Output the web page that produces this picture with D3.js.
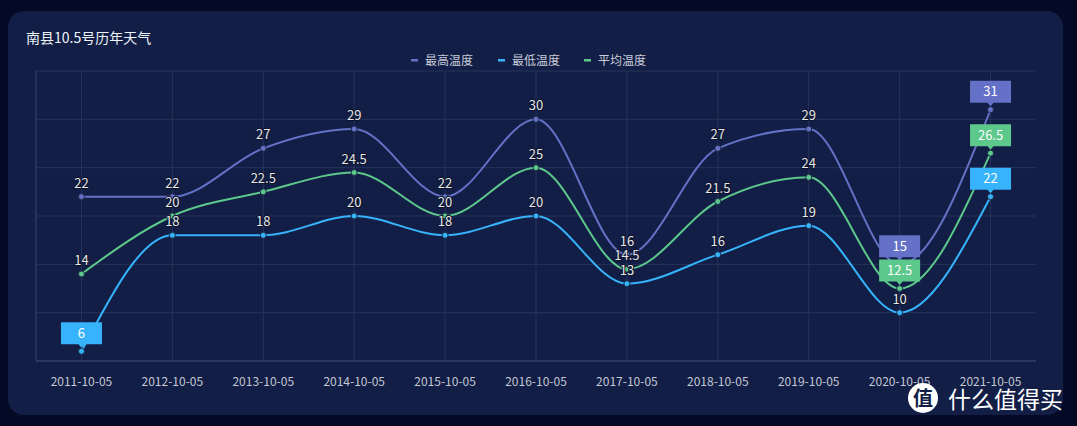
<!DOCTYPE html>
<html>
<head>
<meta charset="utf-8">
<script src="https://cdn.jsdelivr.net/npm/d3@7"></script>
<style>
  html, body { margin: 0; padding: 0; background: #040a26; }
  svg { display: block; font-family: "Noto Sans CJK SC", "Noto Sans", sans-serif; }
</style>
</head>
<body>
<div id="chart"></div>
<script>
const years = ['2011-10-05', '2012-10-05', '2013-10-05', '2014-10-05', '2015-10-05', '2016-10-05',
  '2017-10-05', '2018-10-05', '2019-10-05', '2020-10-05', '2021-10-05'];
const highTemp = [22, 22, 27, 29, 22, 30, 16, 27, 29, 15, 31];
const lowTemp = [6, 18, 18, 20, 18, 20, 13, 16, 19, 10, 22];
const avgTemp = [14, 20, 22.5, 24.5, 20, 25, 14.5, 21.5, 24, 12.5, 26.5];
const seriesNames = ['最高温度', '最低温度', '平均温度'];
const yTicks = [5, 10, 15, 20, 25, 30, 35];

const series = [
  { name: seriesNames[0], values: highTemp, color: '#6471c6' },
  { name: seriesNames[1], values: lowTemp, color: '#36b3fb' },
  { name: seriesNames[2], values: avgTemp, color: '#5dc88b' }
];

const width = 1077, height = 426;
const svg = d3.select('#chart').append('svg')
  .attr('width', width)
  .attr('height', height);

svg.append('rect').attr('width', width).attr('height', height).attr('fill', '#040a26');
svg.append('rect')
  .attr('x', 8).attr('y', 11)
  .attr('width', 1055).attr('height', 404)
  .attr('rx', 16).attr('ry', 16)
  .attr('fill', '#121e45');

svg.append('text')
  .attr('x', 26).attr('y', 43)
  .attr('fill', '#eef3fb')
  .attr('font-size', 14)
  .text('南县10.5号历年天气');

const x = d3.scaleBand().domain(years).range([36, 1036]);
const y = d3.scaleLinear().domain([5, 35]).range([361, 71]);
const cx = d => x(d) + x.bandwidth() / 2;

// grid
svg.append('g').selectAll('line').data(yTicks).join('line')
  .attr('x1', 36).attr('x2', 1036)
  .attr('y1', d => y(d)).attr('y2', d => y(d))
  .attr('stroke', '#26335a').attr('stroke-width', 1);
svg.append('g').selectAll('line').data(years).join('line')
  .attr('x1', d => cx(d)).attr('x2', d => cx(d))
  .attr('y1', 71).attr('y2', 361)
  .attr('stroke', '#26335a').attr('stroke-width', 1);

// axes lines
svg.append('line').attr('x1', 36).attr('x2', 36).attr('y1', 71).attr('y2', 361)
  .attr('stroke', '#364470');
svg.append('line').attr('x1', 36).attr('x2', 1036).attr('y1', 361).attr('y2', 361)
  .attr('stroke', '#364470');

svg.append('g').selectAll('text').data(years).join('text')
  .attr('x', d => cx(d)).attr('y', 386)
  .attr('text-anchor', 'middle')
  .attr('fill', '#c3c7d4')
  .attr('font-size', 12)
  .text(d => d);

// legend
const legendX = [411, 498, 584];
const legend = svg.append('g').selectAll('g').data(series).join('g')
  .attr('transform', (d, i) => `translate(${legendX[i]},60)`);
legend.append('rect').attr('x', 0).attr('y', -1).attr('width', 7).attr('height', 2.5)
  .attr('fill', d => d.color);
legend.append('text').attr('x', 14).attr('y', 4.5)
  .attr('fill', '#c8ccd8').attr('font-size', 12)
  .text(d => d.name);

const line = d3.line()
  .x((v, i) => cx(years[i]))
  .y(v => y(v))
  .curve(d3.curveMonotoneX);

const drawOrder = [series[0], series[2], series[1]];

drawOrder.forEach(s => {
  svg.append('path')
    .datum(s.values)
    .attr('fill', 'none')
    .attr('stroke', s.color)
    .attr('stroke-width', 2)
    .attr('d', line);
});

drawOrder.forEach(s => {
  svg.append('g').selectAll('circle').data(s.values).join('circle')
    .attr('cx', (v, i) => cx(years[i]))
    .attr('cy', v => y(v))
    .attr('r', 3)
    .attr('fill', s.color)
    .attr('stroke', '#1b2a4a')
    .attr('stroke-width', 1);
});

// value labels (skip those covered by mark boxes)
drawOrder.forEach(s => {
  const maxV = d3.max(s.values), minV = d3.min(s.values);
  const iMax = s.values.indexOf(maxV), iMin = s.values.indexOf(minV);
  const pts = s.values.map((v, i) => ({ v, i })).filter(p => p.i !== iMax && p.i !== iMin);
  svg.append('g').selectAll('text').data(pts).join('text')
    .attr('x', p => cx(years[p.i]))
    .attr('y', p => y(p.v) - 9)
    .attr('text-anchor', 'middle')
    .attr('fill', '#e6e6e6')
    .attr('stroke', '#0d1430')
    .attr('stroke-width', 2)
    .attr('paint-order', 'stroke')
    .attr('font-size', 13)
    .text(p => p.v);
});

// mark boxes for max / min
series.forEach(s => {
  const maxV = d3.max(s.values), minV = d3.min(s.values);
  [s.values.indexOf(maxV), s.values.indexOf(minV)].forEach(i => {
    const px = cx(years[i]), py = y(s.values[i]);
    const g = svg.append('g').attr('transform', `translate(${px},${py})`);
    g.append('path')
      .attr('d', 'M-20.5,-29 H20.5 V-7 H3 L0,-3.5 L-3,-7 H-20.5 Z')
      .attr('fill', s.color);
    g.append('text')
      .attr('x', 0).attr('y', -13.5)
      .attr('text-anchor', 'middle')
      .attr('fill', '#ffffff')
      .attr('font-size', 13)
      .text(s.values[i]);
  });
});

// watermark
svg.append('circle').attr('cx', 923).attr('cy', 398).attr('r', 15).attr('fill', '#ffffff');
svg.append('text').attr('x', 923).attr('y', 406).attr('text-anchor', 'middle')
  .attr('fill', '#121e45').attr('font-size', 20).attr('font-weight', 'bold').text('值');
svg.append('text').attr('x', 948).attr('y', 408)
  .attr('fill', '#ffffff').attr('font-size', 23)
  .text('什么值得买');
</script>
</body>
</html>
